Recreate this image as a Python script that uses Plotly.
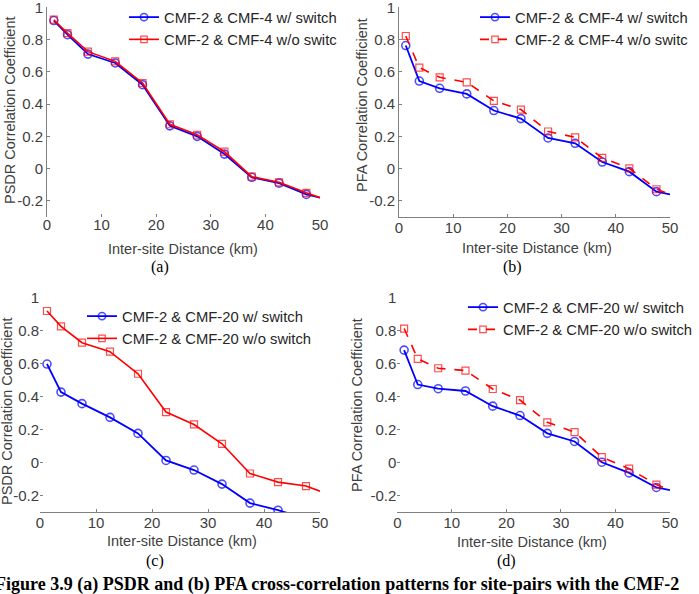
import plotly.graph_objects as go

# ---------------- data ----------------
x_dist = [1.25, 3.75, 7.5, 12.5, 17.5, 22.5, 27.5, 32.5, 37.5, 42.5, 47.5, 50]

a_with = [0.918, 0.83, 0.71, 0.655, 0.52, 0.265, 0.20, 0.09, -0.054, -0.09, -0.16, -0.18]
a_without = [0.923, 0.84, 0.725, 0.665, 0.53, 0.275, 0.21, 0.105, -0.05, -0.085, -0.15, -0.18]

b_with = [0.763, 0.543, 0.498, 0.463, 0.36, 0.31, 0.19, 0.157, 0.041, -0.019, -0.143, -0.16]
b_without = [0.822, 0.626, 0.566, 0.535, 0.42, 0.366, 0.23, 0.194, 0.066, 0.002, -0.128, -0.16]

c_with = [0.596, 0.426, 0.356, 0.273, 0.176, 0.012, -0.046, -0.131, -0.246, -0.289, -0.34, -0.37]
c_without = [0.917, 0.824, 0.725, 0.671, 0.537, 0.305, 0.23, 0.113, -0.067, -0.119, -0.143, -0.174]

d_with = [0.682, 0.473, 0.448, 0.434, 0.342, 0.285, 0.177, 0.128, 0.002, -0.063, -0.151, -0.167]
d_without = [0.813, 0.629, 0.572, 0.558, 0.446, 0.379, 0.244, 0.185, 0.033, -0.037, -0.134, -0.167]

x_ticks = [0, 10, 20, 30, 40, 50]
y_ticks = [-0.2, 0, 0.2, 0.4, 0.6, 0.8, 1]
y_ticklabels = ["-0.2", "0", "0.2", "0.4", "0.6", "0.8", "1"]

panels = [
    dict(key="a", w=a_with, wo=a_without, wname="CMF-2 & CMF-4 w/ switch", woname="CMF-2 & CMF-4 w/o switc",
         ytitle="PSDR Correlation Coefficient", dash="solid"),
    dict(key="b", w=b_with, wo=b_without, wname="CMF-2 & CMF-4 w/ switch", woname="CMF-2 & CMF-4 w/o switc",
         ytitle="PFA Correlation Coefficient", dash="dash"),
    dict(key="c", w=c_with, wo=c_without, wname="CMF-2 & CMF-20 w/ switch", woname="CMF-2 & CMF-20 w/o switch",
         ytitle="PSDR Correlation Coefficient", dash="solid"),
    dict(key="d", w=d_with, wo=d_without, wname="CMF-2 & CMF-20 w/ switch", woname="CMF-2 & CMF-20 w/o switch",
         ytitle="PFA Correlation Coefficient", dash="dash"),
]

# ---------------- layout geometry (pixels) ----------------
W, H = 699, 594
geo = {
    "a": dict(x0=47, x1=320, y0=7.3, y1=217, showy=True, showx=False,
              leg=(124, 1), xt=(183, 249), yt=(10, 110), cap=(160, 267)),
    "b": dict(x0=399, x1=670, y0=7.3, y1=217, showy=True, showx=True,
              leg=(475, 1), xt=(537, 248), yt=(362, 105), cap=(512, 267)),
    "c": dict(x0=40, x1=320, y0=297.3, y1=512, showy=False, showx=True,
              leg=(82, 300), xt=(182, 541), yt=(7, 411), cap=(155, 561)),
    "d": dict(x0=397.3, x1=670, y0=297.7, y1=512, showy=False, showx=True,
              leg=(463, 291), xt=(532, 542), yt=(357, 405), cap=(506, 561)),
}

BLUE = "#0000ff"
RED = "#ff0000"
AXC = "#808080"
TXT = "#404040"
SANS = "Liberation Sans, Arial, sans-serif"
SERIF = "Liberation Serif, Times New Roman, serif"

fig = go.Figure()
layout = dict(width=W, height=H, margin=dict(l=0, r=0, t=0, b=0, autoexpand=False),
              paper_bgcolor="white", plot_bgcolor="white", showlegend=True)
annotations = []

n = len(x_dist)
sizes_c = [8] * (n - 1) + [0]
sizes_s = [7] * (n - 1) + [0]

for i, p in enumerate(panels):
    g = geo[p["key"]]
    idx = "" if i == 0 else str(i + 1)
    xa, ya = "x" + idx, "y" + idx
    leg = "legend" + idx
    fig.add_trace(go.Scatter(
        x=x_dist, y=p["w"], mode="lines+markers", name=p["wname"], xaxis=xa, yaxis=ya, legend=leg,
        line=dict(color=BLUE, width=1.8),
        marker=dict(symbol="circle-open", size=sizes_c, color=BLUE, line=dict(width=1.6, color=BLUE))))
    fig.add_trace(go.Scatter(
        x=x_dist, y=p["wo"], mode="lines+markers", name=p["woname"], xaxis=xa, yaxis=ya, legend=leg,
        line=dict(color=RED, width=1.6, dash=p["dash"]),
        marker=dict(symbol="square-open", size=sizes_s, color=RED, line=dict(width=1.2, color=RED))))

    layout["xaxis" + idx] = dict(
        domain=[g["x0"] / W, g["x1"] / W], anchor=ya, range=[0, 50],
        tickvals=x_ticks, ticks="inside", ticklen=3, tickcolor=AXC, ticklabelstandoff=-3,
        ticklabeloverflow="allow",
        showline=g["showx"], linecolor=AXC, linewidth=1, showgrid=False, zeroline=False,
        tickfont=dict(family=SANS, size=15, color=TXT), fixedrange=True)
    layout["yaxis" + idx] = dict(
        domain=[1 - g["y1"] / H, 1 - g["y0"] / H], anchor=xa, range=[-0.3, 1],
        tickvals=y_ticks, ticktext=y_ticklabels, ticks="inside", ticklen=3, tickcolor=AXC,
        ticklabeloverflow="allow",
        showline=g["showy"], linecolor=AXC, linewidth=1, showgrid=False, zeroline=False,
        tickfont=dict(family=SANS, size=15, color=TXT), fixedrange=True)
    layout[leg] = dict(
        x=g["leg"][0] / W, y=1 - g["leg"][1] / H, xanchor="left", yanchor="top",
        bgcolor="rgba(0,0,0,0)", borderwidth=0, itemwidth=30, tracegroupgap=0,
        font=dict(family=SANS, size=14.8, color="#262626"))

    annotations.append(dict(text="Inter-site Distance (km)", x=g["xt"][0] / W, y=1 - g["xt"][1] / H,
                            xref="paper", yref="paper", showarrow=False, xanchor="center", yanchor="middle",
                            font=dict(family=SANS, size=14.5, color=TXT)))
    annotations.append(dict(text=p["ytitle"], x=g["yt"][0] / W, y=1 - g["yt"][1] / H, textangle=-90,
                            xref="paper", yref="paper", showarrow=False, xanchor="center", yanchor="middle",
                            font=dict(family=SANS, size=14.5, color=TXT)))
    annotations.append(dict(text="(" + p["key"] + ")", x=g["cap"][0] / W, y=1 - g["cap"][1] / H,
                            xref="paper", yref="paper", showarrow=False, xanchor="center", yanchor="middle",
                            font=dict(family=SERIF, size=16, color="black")))

annotations.append(dict(
    text="<b>Figure 3.9 (a) PSDR and (b) PFA cross-correlation patterns for site-pairs with the CMF-2</b>",
    x=681 / W, y=1 - 584 / H, xref="paper", yref="paper", showarrow=False,
    xanchor="right", yanchor="middle", font=dict(family=SERIF, size=18, color="black")))

layout["annotations"] = annotations
fig.update_layout(**layout)
fig.write_html("out.html")
